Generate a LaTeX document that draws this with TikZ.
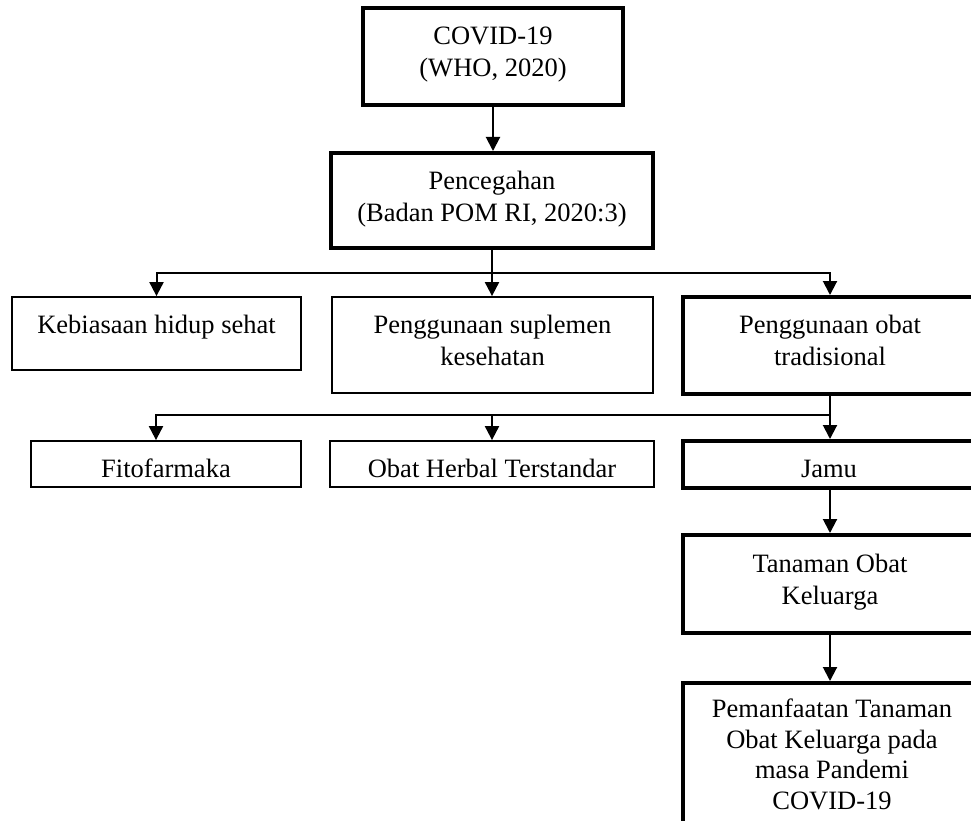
\documentclass[tikz,border=0pt]{standalone}
\usepackage{fontspec}
\setmainfont{Liberation Serif}
\usetikzlibrary{arrows.meta}
\begin{document}
\begin{tikzpicture}[x=1pt,y=-1pt,
  boxthin/.style={draw, line width=1.8pt, inner sep=0pt},
  boxthick/.style={draw, line width=4pt, inner sep=0pt},
  txt/.style={anchor=north, inner sep=0pt, align=center, font=\fontsize{26.5}{31.5}\selectfont},
  conn/.style={line width=2pt, -{Triangle[width=14pt,length=14pt]}}]
\useasboundingbox (0,0) rectangle (971,821);

% boxes
\node[boxthick, minimum width=260pt, minimum height=97pt] (covid) at (493,56.5) {};
\node[boxthick, minimum width=322pt, minimum height=95pt] (pence) at (492,200.5) {};
\node[boxthin, minimum width=289pt, minimum height=73pt] (kebi) at (156.5,333.5) {};
\node[boxthin, minimum width=321pt, minimum height=96pt] (supl) at (492.5,345) {};
\node[boxthick, minimum width=294pt, minimum height=97pt] (obat) at (830,345.5) {};
\node[boxthin, minimum width=270pt, minimum height=46pt] (fito) at (166,464) {};
\node[boxthin, minimum width=324pt, minimum height=46pt] (ohtm) at (492,464) {};
\node[boxthick, minimum width=294pt, minimum height=47pt] (jamu) at (830,464.5) {};
\node[boxthick, minimum width=294pt, minimum height=98pt] (toga) at (830,584) {};
\node[boxthick, minimum width=294pt, minimum height=190pt, anchor=north] (pman) at (830,681) {};

% texts
\node[txt] (tcovid) at (493,27) {COVID-19\\(WHO, 2020)};
\node[txt] (tpence) at (492,171) {Pencegahan\\(Badan POM RI, 2020:3)};
\node[txt] (tkebi) at (156.5,315) {Kebiasaan hidup sehat};
\node[txt] (tsupl) at (492.5,315) {Penggunaan suplemen\\kesehatan};
\node[txt] (tobat) at (830,315) {Penggunaan obat\\tradisional};
\node[txt] (tfito) at (166,459) {Fitofarmaka};
\node[txt] (tohtm) at (492,459) {Obat Herbal Terstandar};
\node[txt] (tjamu) at (829,459.5) {Jamu};
\node[txt] (ttoga) at (830,554) {Tanaman Obat\\Keluarga};
\node[txt, font=\fontsize{26.5}{30.5}\selectfont] (tpman) at (832,699) {Pemanfaatan Tanaman\\Obat Keluarga pada\\masa Pandemi\\COVID-19};

% connectors
\coordinate (h1) at (0,273);
\coordinate (h2) at (0,415);
\path (fito.north) ++(-10,0) coordinate (fitoin);

\draw[conn] (covid.south) -- (covid.south |- pence.north);
\draw[conn] (pence.south |- h1) -| (kebi.north);
\draw[conn] (pence.south |- h1) -| (obat.north);
\draw[conn] (pence.south) -- (pence.south |- supl.north);

\draw[conn] (obat.south) -- (jamu.north);
\draw[conn] (obat.south |- h2) -| (fitoin);
\draw[conn] (obat.south |- h2) -| (ohtm.north);

\draw[conn] (jamu.south) -- (toga.north);
\draw[conn] (toga.south) -- (pman.north);
\end{tikzpicture}
\end{document}
